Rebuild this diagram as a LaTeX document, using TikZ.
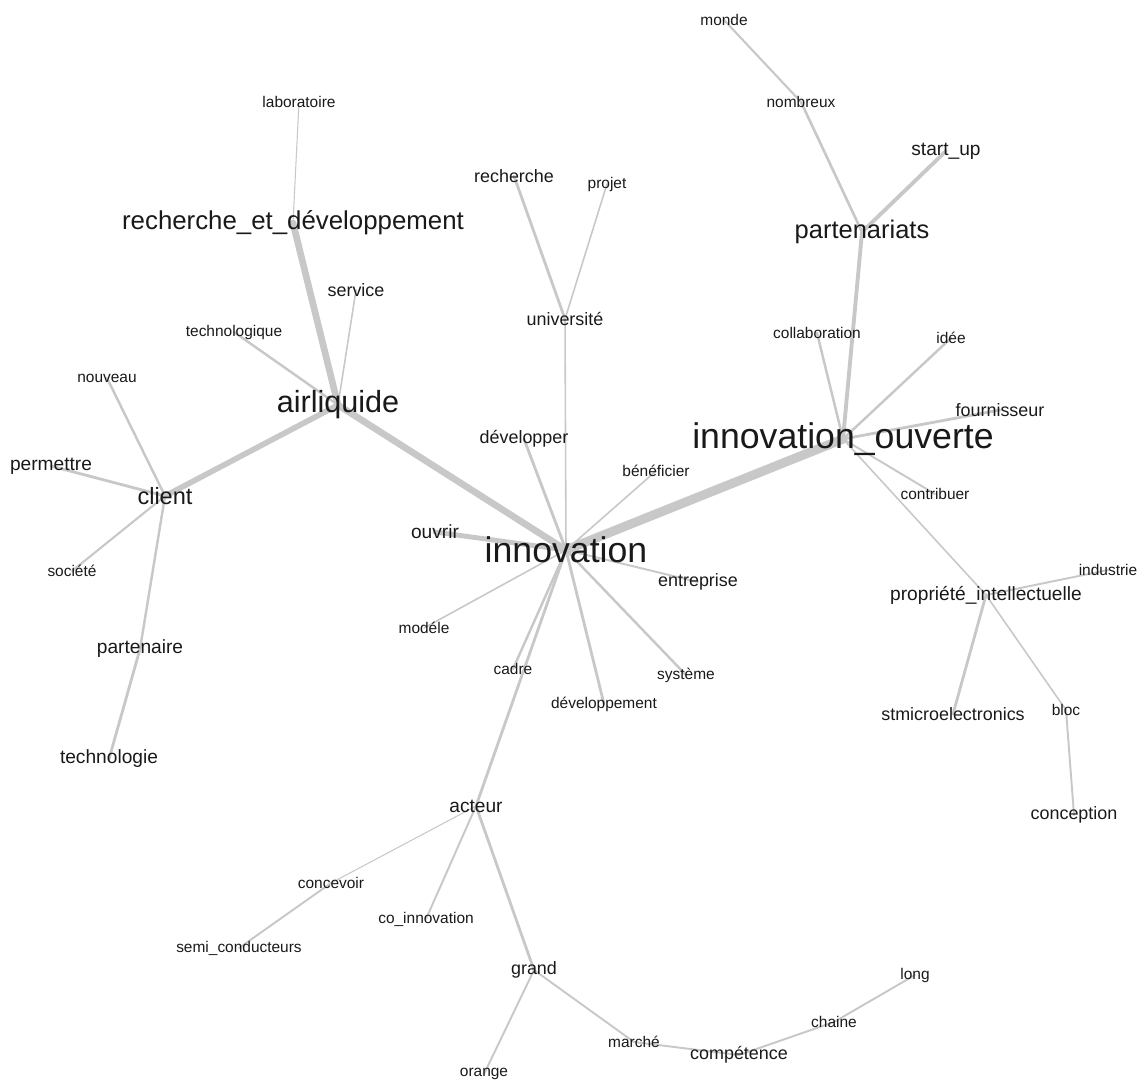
\documentclass[tikz,border=0pt]{standalone}
\usepackage{fontspec}
\setmainfont{Liberation Sans}
\usetikzlibrary{backgrounds}
\definecolor{lien}{RGB}{200,200,200}
\definecolor{encre}{RGB}{25,25,25}
\tikzstyle{mot} = [inner sep=0pt, text=encre]
\tikzstyle{petit} = [mot, font=\fontsize{8.8}{10}\selectfont]
\tikzstyle{moyen} = [mot, font=\fontsize{10.2}{12}\selectfont]
\tikzstyle{fort} = [mot, font=\fontsize{10.9}{13}\selectfont]
\tikzstyle{arete} = [draw=lien, line cap=round, line width=1.1pt]

\begin{document}
\begin{tikzpicture}[x=0.02cm,y=-0.02cm]
\useasboundingbox (0,0) rectangle (1141,1083);
\node [mot,font=\fontsize{20.3}{24}\selectfont] (inno) at (566,550) {innovation};
\node [mot,font=\fontsize{20.3}{24}\selectfont] (ouverte) at (843,439) {innovation\_ouverte};
\node [mot,font=\fontsize{17.4}{20}\selectfont] (airliq) at (338,405) {airliquide};
\node [mot,font=\fontsize{14.7}{17}\selectfont] (rd) at (293,223) {recherche\_et\_développement};
\node [mot,font=\fontsize{14.5}{17}\selectfont] (partenariats) at (862,232) {partenariats};
\node [mot,font=\fontsize{13.4}{16}\selectfont] (client) at (165,496) {client};
\node [petit] (monde) at (724,20) {monde};
\node [petit] (nombreux) at (801,102) {nombreux};
\node [fort] (startup) at (946,151) {start\_up};
\node [petit] (labo) at (299,102) {laboratoire};
\node [moyen] (recherche) at (514,176) {recherche};
\node [petit] (projet) at (607,184) {projet};
\node [moyen] (univ) at (565,319) {université};
\node [moyen] (service) at (356,290) {service};
\node [petit] (technologique) at (234,332) {technologique};
\node [petit] (nouveau) at (107,378) {nouveau};
\node [fort] (permettre) at (51,466) {permettre};
\node [petit] (societe) at (72,571) {société};
\node [fort] (partenaire) at (140,649) {partenaire};
\node [fort] (technologie) at (109,759) {technologie};
\node [petit] (collab) at (817,333) {collaboration};
\node [petit] (idee) at (951,338) {idée};
\node [moyen] (fournisseur) at (1000,410) {fournisseur};
\node [moyen] (developper) at (524,439) {développer};
\node [petit] (beneficier) at (656,471) {bénéficier};
\node [petit] (contribuer) at (935,494) {contribuer};
\node [fort] (ouvrir) at (435,532) {ouvrir};
\node [moyen] (entreprise) at (698,582) {entreprise};
\node [petit] (industrie) at (1108,570) {industrie};
\node [fort] (propriete) at (986,595) {propriété\_intellectuelle};
\node [petit] (modele) at (424,628) {modéle};
\node [petit] (cadre) at (513,669) {cadre};
\node [petit] (systeme) at (686,675) {système};
\node [petit] (developpement) at (604,704) {développement};
\node [moyen] (stmicro) at (953,714) {stmicroelectronics};
\node [petit] (bloc) at (1066,710) {bloc};
\node [moyen] (conception) at (1074,815) {conception};
\node [fort] (acteur) at (476,806) {acteur};
\node [petit] (concevoir) at (331,883) {concevoir};
\node [petit] (coinno) at (426,919) {co\_innovation};
\node [petit] (semi) at (239,948) {semi\_conducteurs};
\node [moyen] (grand) at (534,970) {grand};
\node [petit] (long) at (915,975) {long};
\node [petit] (chaine) at (834,1022) {chaine};
\node [petit] (marche) at (634,1042) {marché};
\node [moyen] (competence) at (739,1055) {compétence};
\node [petit] (orange) at (484,1074) {orange};

\begin{pgfonlayer}{background}
\draw [arete,line width=5.2pt] (inno.center) -- (ouverte.center);
\draw [arete,line width=3.8pt] (inno.center) -- (airliq.center);
\draw [arete,line width=3.8pt] (airliq.center) -- (rd.center);
\draw [arete,line width=3.2pt] (airliq.center) -- (client.center);
\draw [arete,line width=0.6pt] (rd.center) -- (labo.center);
\draw [arete,line width=0.9pt] (airliq.center) -- (service.center);
\draw [arete,line width=1.4pt] (airliq.center) -- (technologique.center);
\draw [arete,line width=1.4pt] (client.center) -- (nouveau.center);
\draw [arete,line width=1.6pt] (client.center) -- (permettre.center);
\draw [arete,line width=1.2pt] (client.center) -- (societe.center);
\draw [arete,line width=1.4pt] (client.center) -- (partenaire.center);
\draw [arete,line width=1.6pt] (partenaire.center) -- (technologie.center);
\draw [arete,line width=0.9pt] (inno.center) -- (univ.center);
\draw [arete,line width=1.6pt] (univ.center) -- (recherche.center);
\draw [arete,line width=0.9pt] (univ.center) -- (projet.center);
\draw [arete,line width=1.6pt] (inno.center) -- (developper.center);
\draw [arete,line width=0.9pt] (inno.center) -- (beneficier.center);
\draw [arete,line width=2.8pt] (inno.center) -- (ouvrir.center);
\draw [arete] (inno.center) -- (entreprise.center);
\draw [arete,line width=0.9pt] (inno.center) -- (modele.center);
\draw [arete,line width=1.4pt] (inno.center) -- (cadre.center);
\draw [arete,line width=1.6pt] (inno.center) -- (developpement.center);
\draw [arete,line width=1.4pt] (inno.center) -- (systeme.center);
\draw [arete,line width=1.6pt] (inno.center) -- (acteur.center);
\draw [arete,line width=2.2pt] (ouverte.center) -- (partenariats.center);
\draw [arete,line width=2.2pt] (partenariats.center) -- (startup.center);
\draw [arete,line width=1.5pt] (partenariats.center) -- (nombreux.center);
\draw [arete,line width=1.2pt] (nombreux.center) -- (monde.center);
\draw [arete,line width=1.4pt] (ouverte.center) -- (collab.center);
\draw [arete,line width=1.4pt] (ouverte.center) -- (idee.center);
\draw [arete,line width=1.6pt] (ouverte.center) -- (fournisseur.center);
\draw [arete] (ouverte.center) -- (contribuer.center);
\draw [arete,line width=0.9pt] (ouverte.center) -- (propriete.center);
\draw [arete] (propriete.center) -- (industrie.center);
\draw [arete,line width=1.6pt] (propriete.center) -- (stmicro.center);
\draw [arete,line width=0.9pt] (propriete.center) -- (bloc.center);
\draw [arete] (bloc.center) -- (conception.center);
\draw [arete,line width=0.6pt] (acteur.center) -- (concevoir.center);
\draw [arete] (concevoir.center) -- (semi.center);
\draw [arete] (acteur.center) -- (coinno.center);
\draw [arete,line width=1.6pt] (acteur.center) -- (grand.center);
\draw [arete] (grand.center) -- (orange.center);
\draw [arete] (grand.center) -- (marche.center);
\draw [arete] (marche.center) -- (competence.center);
\draw [arete] (competence.center) -- (chaine.center);
\draw [arete] (chaine.center) -- (long.center);
\end{pgfonlayer}
\end{tikzpicture}
\end{document}
